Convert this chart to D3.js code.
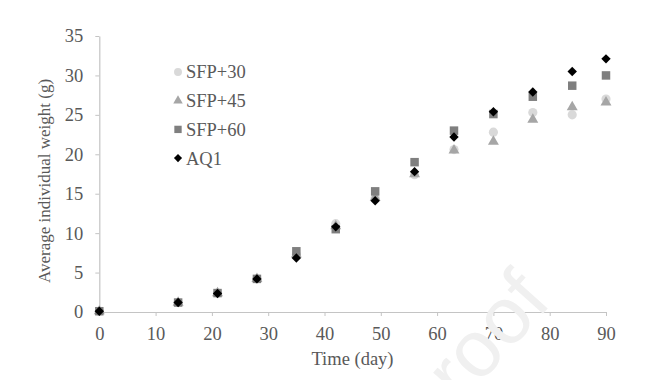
<!DOCTYPE html>
<html><head><meta charset="utf-8">
<script src="https://cdn.jsdelivr.net/npm/d3@7"></script>
<style>body{margin:0;background:#fff}svg{display:block}</style>
</head><body>
<svg id="c" width="657" height="380"></svg>
<script>
const days = [0,14,21,28,35,42,49,56,63,70,77,84,90];
const sfp30 = [0.1,1.2,2.4,4.2,7.3,11.2,14.5,17.4,20.6,22.8,25.3,25.0,27.0];
const sfp45 = [0.1,1.2,2.4,4.2,7.3,10.9,14.5,17.5,20.5,21.6,24.4,26.0,26.6];
const sfp60 = [0.1,1.2,2.4,4.2,7.7,10.5,15.3,19.0,23.0,25.1,27.3,28.7,30.0];
const aq1   = [0.1,1.2,2.35,4.2,6.85,10.8,14.1,17.8,22.2,25.4,27.9,30.5,32.1];
const seriesNames = ["SFP+30","SFP+45","SFP+60","AQ1"];
const xTicks = [0,10,20,30,40,50,60,70,80,90];
const yTicks = [0,5,10,15,20,25,30,35];

const diamond = {draw(ctx,size){const r=Math.sqrt(size/2);ctx.moveTo(0,-r);ctx.lineTo(r,0);ctx.lineTo(0,r);ctx.lineTo(-r,0);ctx.closePath();}};
const series = [
  {name:seriesNames[0], values:sfp30, sym:d3.symbolCircle, color:"#d9d9d9", size:66},
  {name:seriesNames[1], values:sfp45, sym:d3.symbolTriangle, color:"#a6a6a6", size:52},
  {name:seriesNames[2], values:sfp60, sym:d3.symbolSquare, color:"#7f7f7f", size:72},
  {name:seriesNames[3], values:aq1, sym:diamond, color:"#000000", size:44}
];

const svg = d3.select("#c");
const x = d3.scaleLinear().domain([0,90]).range([99.3,606]);
const y = d3.scaleLinear().domain([0,35]).range([312,36]);

const font = "Liberation Serif, Times New Roman, serif";
const fs = "18.5px";
const axisColor = "#c4c4c4";
const txtColor = "#595959";

const xAxis = svg.append("g").attr("transform",`translate(0,${y(0)})`)
  .call(d3.axisBottom(x).tickValues(xTicks).tickSize(4).tickPadding(10.5).tickSizeOuter(0));
const yAxis = svg.append("g").attr("transform",`translate(${x(0)},0)`)
  .call(d3.axisLeft(y).tickValues(yTicks).tickSize(4).tickPadding(12).tickSizeOuter(0));
[xAxis,yAxis].forEach(g=>{
  g.select(".domain").attr("stroke",axisColor).attr("stroke-width",1.2);
  g.selectAll(".tick line").attr("stroke",axisColor);
  g.selectAll(".tick text").style("font-family",font).style("font-size",fs).attr("fill",txtColor);
});

svg.append("text").attr("x",352.5).attr("y",365).attr("text-anchor","middle")
  .style("font-family",font).style("font-size",fs).attr("fill",txtColor).text("Time (day)");
svg.append("text").attr("transform","translate(50,181) rotate(-90)").attr("text-anchor","middle")
  .style("font-family",font).style("font-size","17px").attr("fill",txtColor).text("Average individual weight (g)");

series.forEach(s=>{
  svg.append("g").selectAll("path").data(days.map((d,i)=>[d,s.values[i]])).join("path")
    .attr("d",d3.symbol().type(s.sym).size(s.size))
    .attr("transform",d=>`translate(${x(d[0])},${y(d[1])})`)
    .attr("fill",s.color);
});

// legend
const lg = svg.append("g");
series.forEach((s,i)=>{
  const cy = 72 + i*28.7;
  lg.append("path").attr("d",d3.symbol().type(s.sym).size(s.size*0.75))
    .attr("transform",`translate(178,${cy})`).attr("fill",s.color);
  lg.append("text").attr("x",186).attr("y",cy).attr("dy","0.35em")
    .style("font-family",font).style("font-size",fs).attr("fill",txtColor).text(s.name);
});

// watermark
svg.append("text").attr("x",461).attr("y",405)
  .attr("transform","rotate(-48,461,405)")
  .style("font-family","Liberation Sans, Arial, sans-serif")
  .style("font-size","80px").style("fill","#f0f0f0")
  .text("roof");
</script>
</body></html>
